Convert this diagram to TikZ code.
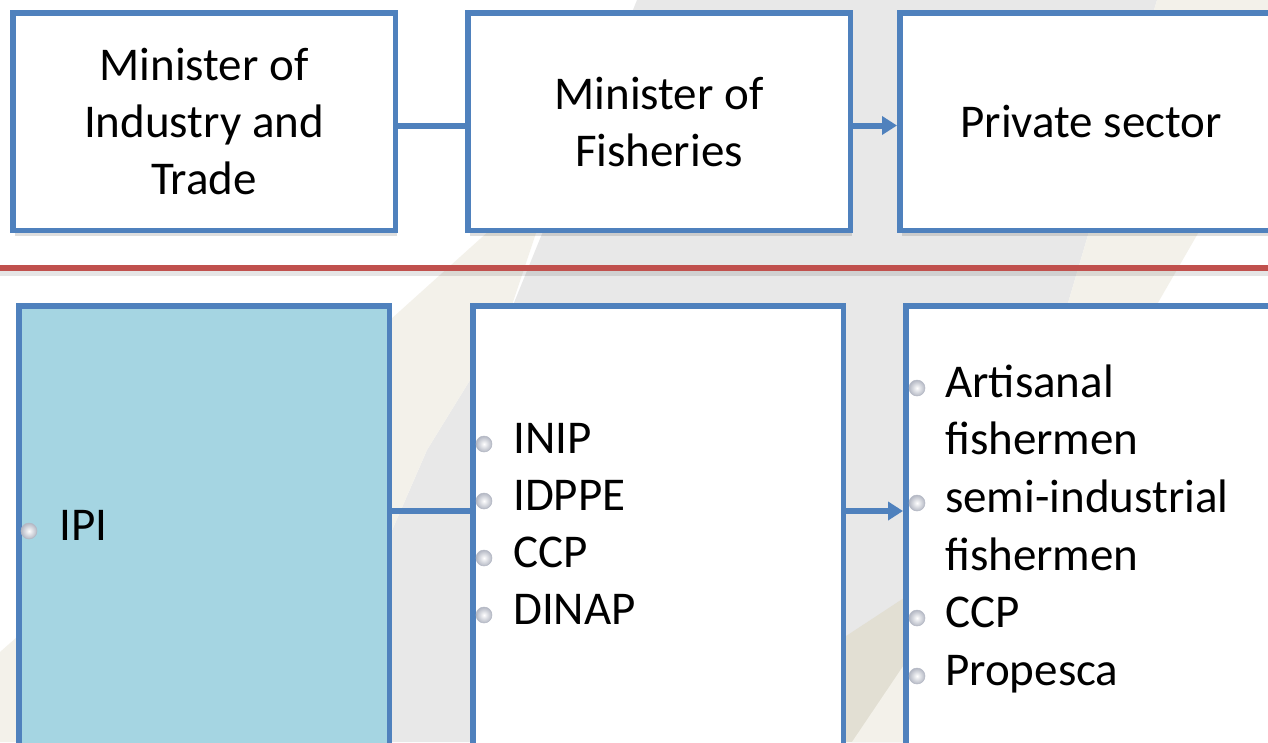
\documentclass[tikz,border=0pt]{standalone}
\usepackage{fontspec}
\setmainfont{Carlito}
\usetikzlibrary{arrows.meta,shadows}
\definecolor{boxblue}{HTML}{4F81BD}
\definecolor{sepred}{HTML}{C0504D}
\definecolor{ipiblue}{HTML}{A5D5E2}
\definecolor{bggray}{HTML}{E8E8E8}
\definecolor{bgbeige}{HTML}{F3F1EA}
\definecolor{bgbeigedark}{HTML}{E2DFD3}
\definecolor{bulrim}{HTML}{B4B8C4}
\tikzset{
  shadowed/.style={drop shadow={shadow xshift=2pt, shadow yshift=-6pt, fill=black!70, opacity=0.18}},
  topbox/.style={draw=boxblue, line width=5.5pt, fill=white, minimum width=382.5pt, minimum height=217.5pt,
    inner sep=0pt, align=center, font=\fontsize{47}{57}\selectfont, shadowed},
  botbox/.style={draw=boxblue, line width=5.5pt, fill=white, minimum width=370.5pt, minimum height=464.5pt,
    inner sep=0pt, shadowed},
  conn/.style={draw=boxblue, line width=6pt},
  arr/.style={conn, -{Triangle[length=15pt,width=18pt]}},
  item/.style={anchor=base west, inner sep=0pt, font=\fontsize{47}{57}\selectfont},
  bul/.style={circle, minimum size=16pt, inner sep=0pt, shading=radial, inner color=white,
    outer color=bulrim, draw=bulrim, line width=0.5pt},
}
\begin{document}
\begin{tikzpicture}[x=1pt,y=-1pt]
\useasboundingbox (0,0) rectangle (1268,742);
\clip (0,0) rectangle (1268,742);
% background
\fill[white] (0,0) rectangle (1268,742);
\fill[bggray] (637,0) -- (1157,0) -- (1088,235) -- (1063,320) -- (960,742) -- (300,742) -- (427,450) -- (507,320) -- cycle;
\fill[bgbeige] (557,170) -- (490,230) -- (390,320) -- (17,637) -- (0,652) -- (0,742) -- (300,742) -- (427,450) -- (507,320) -- cycle;
\fill[bgbeige] (1157,0) -- (1333,0) -- (1197,235) -- (1148,320) -- (1080,420) -- (1040,420) -- (1063,320) -- (1088,235) -- cycle;
\fill[bgbeigedark] (840,640) -- (910,594) -- (910,742) -- (840,742) -- cycle;
\fill[bgbeige] (852,742) -- (910,656) -- (910,742) -- cycle;
% separator
\coordinate (sepL) at (0,268);
\coordinate (sepR) at (1268,268);
\draw[black, opacity=0.10, line width=5pt] ([yshift=-5pt]sepL) -- ([yshift=-5pt]sepR);
\draw[sepred, line width=6pt] (sepL) -- (sepR);
% top row
\node[topbox] (mit) at (204,121.5) {Minister of\\Industry and\\Trade};
\node[topbox] (mof) at (659,121.5) {Minister of\\Fisheries};
\node[topbox] (priv) at (1091,121.5) {Private sector};
\draw[conn] ([yshift=-4pt]mit.east) -- ([yshift=-4pt]mof.west);
\draw[arr] ([yshift=-4pt]mof.east) -- ([yshift=-4pt]priv.west);
% bottom row
\node[botbox, fill=ipiblue] (ipi) at (204,538) {};
\node[botbox] (inst) at (658,538) {};
\node[botbox] (actors) at (1091,538) {};
\coordinate (lvl) at (0,511);
\draw[conn] (ipi.east |- lvl) -- (inst.west |- lvl);
\draw[arr] (inst.east |- lvl) -- (actors.west |- lvl);
% IPI
\node[bul] (b0) at (29,531) {};
\node[item] (t0) at (59,540) {IPI};
% institutions
\node[bul] (b1) at (484,444) {};
\node[item] (t1) at (513,453) {INIP};
\node[bul] (b2) at (484,501) {};
\node[item] (t2) at (513,510) {IDPPE};
\node[bul] (b3) at (484,558) {};
\node[item] (t3) at (513,567) {CCP};
\node[bul] (b4) at (484,615) {};
\node[item] (t4) at (513,624) {DINAP};
% private actors
\node[bul] (c1) at (917,388) {};
\node[item] (u1) at (945,397) {Artisanal};
\node[item] (u1b) at (945,454) {fishermen};
\node[bul] (c2) at (917,503) {};
\node[item] (u2) at (945,512) {semi-industrial};
\node[item] (u2b) at (945,570) {fishermen};
\node[bul] (c3) at (917,618) {};
\node[item] (u3) at (945,627) {CCP};
\node[bul] (c4) at (917,676) {};
\node[item] (u4) at (945,685) {Propesca};
\end{tikzpicture}
\end{document}
